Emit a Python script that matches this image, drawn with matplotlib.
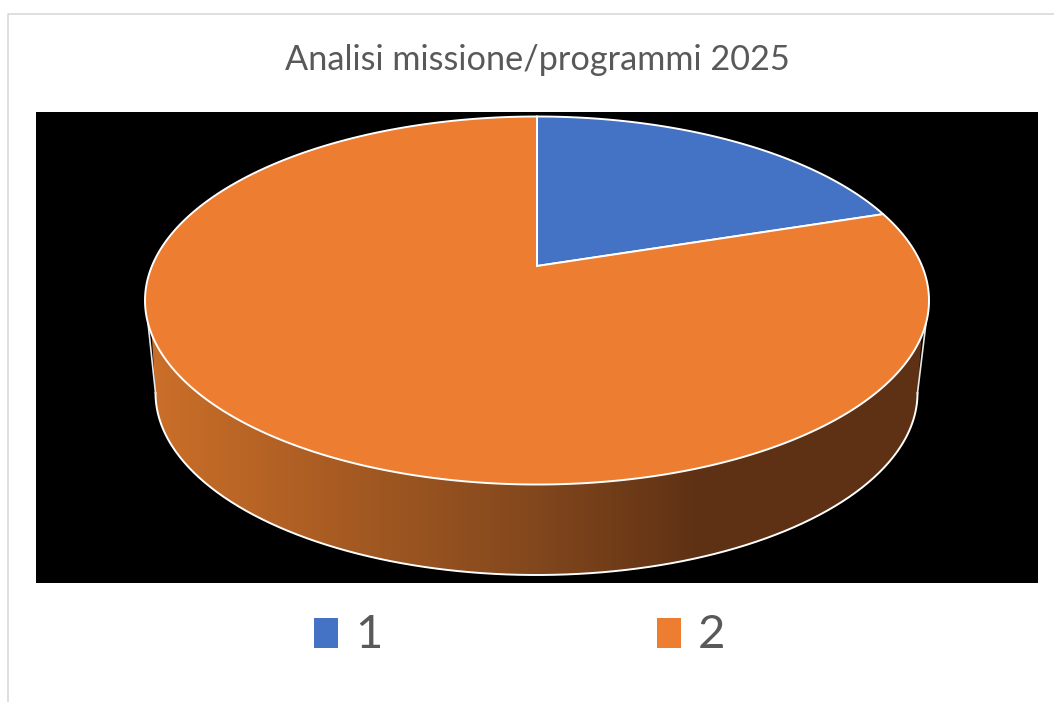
import matplotlib
matplotlib.use('Agg')
import matplotlib.pyplot as plt
from matplotlib.colors import LinearSegmentedColormap
from matplotlib.legend_handler import HandlerPatch
from matplotlib.patches import Patch, Polygon
import numpy as np

title = 'Analisi missione/programmi 2025'
categorie = ['1', '2']
valori = [20, 80]
colori = ['#4472C4', '#ED7D31']

plt.rcParams['font.family'] = ['Lato', 'DejaVu Sans']

# geometria del disco in pixel
cx, cy, rx, ry = 537, 300.5, 392, 184
cx2, cy2, rx2, ry2 = 536.5, 393, 381, 182
apice_y = 266

a = (cy - apice_y) / ry
p = (1 - np.sqrt(1 - a**2)) / a


def bordo(theta):
    # punto sul bordo del disco visto in prospettiva
    z = np.exp(1j * theta)
    w = (z + 1j * p) / (1 - 1j * p * z)
    return cx + rx * w.real, cy - ry * w.imag


fig = plt.figure(figsize=(10.54, 7.02), dpi=100)
ax = fig.add_axes([0, 0, 1, 1])
ax.axis('off')

# cornice e sfondo nero
ax.plot([7.5, 7.5, 1054], [702, 13.5, 13.5], color='#D9D9D9', lw=1.2)
ax.fill([36, 1038, 1038, 36], [112, 112, 583, 583], color='black', lw=0)

# parete laterale con sfumatura
phi = np.arcsin(23 / ry)
t_top = np.linspace(-phi, np.pi + phi, 300)
t_bot = np.linspace(np.pi, 0, 300)
xs = np.r_[cx + rx * np.cos(t_top), cx2 + rx2 * np.cos(t_bot)]
ys = np.r_[cy + ry * np.sin(t_top), cy2 + ry2 * np.sin(t_bot)]
parete = Polygon(np.c_[xs, ys], closed=True, facecolor='none', edgecolor='none')
ax.add_patch(parete)
sfum = LinearSegmentedColormap.from_list('sfum', [
    (0.0, '#CB6F29'), (200 / 780, '#A55A22'), (387 / 780, '#82471D'),
    (550 / 780, '#5E3114'), (1.0, '#5E3114')])
img = ax.imshow(np.linspace(0, 1, 780)[None, :], cmap=sfum, vmin=0, vmax=1,
                extent=[150, 930, 600, 250], aspect='auto', zorder=2)
img.set_clip_path(parete)
ax.plot(cx2 + rx2 * np.cos(t_bot), cy2 + ry2 * np.sin(t_bot), color='white', lw=1.4, zorder=3)
for lato in [0, 1]:
    s = 1 if lato else -1
    ax.plot([cx + s * rx * np.cos(phi), cx2 + s * rx2], [cy + ry * np.sin(phi), cy2],
            color='#E8E8E8', lw=1.2, zorder=3)

# spicchi della faccia superiore, dai valori
frazioni = np.cumsum([0] + valori) / sum(valori)
for i in range(len(valori)):
    th = np.pi / 2 - 2 * np.pi * np.linspace(frazioni[i], frazioni[i + 1], 400)
    x, y = bordo(th)
    ax.add_patch(Polygon(np.c_[np.r_[cx, x], np.r_[apice_y, y]], closed=True,
                         facecolor=colori[i], edgecolor='white', lw=1.4, zorder=4))

ax.set_xlim(0, 1054)
ax.set_ylim(702, 0)

ax.text(537, 59.5, title, color='#595959', fontsize=24.7, ha='center', va='center')

handles = [Patch(facecolor=colori[i], edgecolor='none', label=categorie[i]) for i in range(2)]
ax.legend(handles=handles, ncol=2, frameon=False, fontsize=34, labelcolor='#595959',
          loc='center', bbox_to_anchor=(520 / 1054, 1 - 635.5 / 702), handlelength=0.51,
          handleheight=0.51, handletextpad=0.36, columnspacing=5.81, borderpad=0,
          handler_map={Patch: HandlerPatch(ypad=-0.05)})

fig.savefig('out.png', dpi=100)
